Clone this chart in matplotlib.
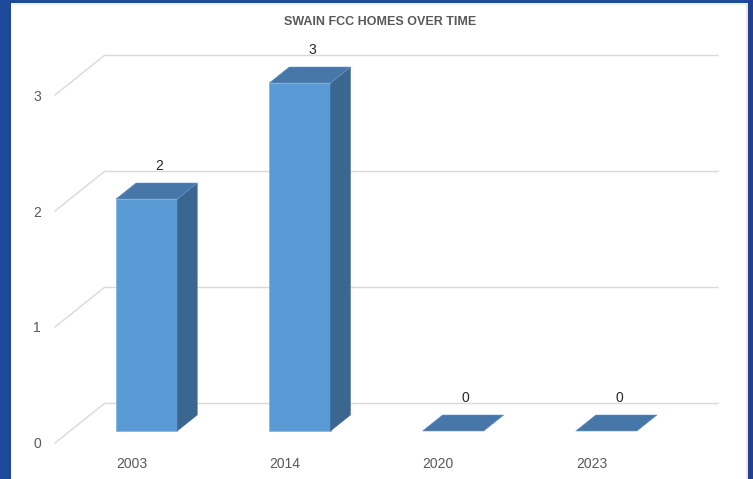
import matplotlib
matplotlib.use("Agg")
import matplotlib.pyplot as plt
from matplotlib.patches import Polygon, Rectangle

# ---- data ----
categories = ["2003", "2014", "2020", "2023"]
values = [2, 3, 0, 0]
y_ticks = [0, 1, 2, 3]
title = "SWAIN FCC HOMES OVER TIME"

# ---- style ----
FRONT = "#5B9BD5"
TOP = "#4677A8"
SIDE = "#3A6690"
GRID = "#D9D9D9"
TEXT = "#595959"
BORDER = "#1F4A9A"
FONT = "Liberation Sans"

W, H = 753, 479
fig = plt.figure(figsize=(W / 100, H / 100), dpi=100)
fig.patch.set_facecolor("white")

# axes: front plane of the floor
ax = fig.add_axes([55 / W, (H - 443) / H, 613 / W, 348 / H])
ax.set_xlim(-0.5, len(categories) - 0.5)
ax.set_ylim(0, 3)
ax.patch.set_visible(False)
for s in ax.spines.values():
    s.set_visible(False)

# depth vector (data units per full depth)
DX = 50 / 153.25
DY = 40 / 116.0
BAR_W = 0.4
D0, D1 = 0.3, 0.7

# gridlines: back wall + floor diagonals
x_left, x_right = -0.5, len(categories) - 0.5
for v in y_ticks:
    ax.plot([x_left + DX, x_right + DX], [v + DY, v + DY], color=GRID, lw=1.0,
            zorder=1, clip_on=False, solid_capstyle="butt")
    ax.plot([x_left, x_left + DX], [v, v + DY], color=GRID, lw=1.0,
            zorder=1, clip_on=False)

# bars
for i, v in enumerate(values):
    xl = i - BAR_W / 2
    xr = i + BAR_W / 2
    if v > 0:
        ax.add_patch(Rectangle((xl + DX * D0, DY * D0), BAR_W, v, facecolor=FRONT,
                               edgecolor="#7FB0E0", lw=0.5, zorder=3, clip_on=False))
        side = [(xr + DX * D0, DY * D0), (xr + DX * D1, DY * D1),
                (xr + DX * D1, v + DY * D1), (xr + DX * D0, v + DY * D0)]
        ax.add_patch(Polygon(side, closed=True, facecolor=SIDE, edgecolor=SIDE,
                             lw=0.3, zorder=3, clip_on=False))
    top = [(xl + DX * D0, v + DY * D0), (xr + DX * D0, v + DY * D0),
           (xr + DX * D1, v + DY * D1), (xl + DX * D1, v + DY * D1)]
    ax.add_patch(Polygon(top, closed=True, facecolor=TOP, edgecolor="#6A98C8",
                         lw=0.4, zorder=4, clip_on=False))
    ax.annotate(str(v), xy=(i + DX * 0.55, v + DY * D1), xytext=(0, 12),
                textcoords="offset points", ha="center", va="center",
                fontsize=10, color="#262626", family=FONT, zorder=5,
                annotation_clip=False)

# ticks
ax.set_xticks(range(len(categories)))
ax.set_xticklabels(categories)
ax.set_yticks(y_ticks)
ax.set_yticklabels([str(t) for t in y_ticks])
ax.tick_params(axis="both", length=0, labelsize=10, labelcolor=TEXT)
ax.tick_params(axis="x", pad=10)
ax.tick_params(axis="y", pad=10)
for lab in ax.get_xticklabels() + ax.get_yticklabels():
    lab.set_family(FONT)

# title
fig.text(380 / W, 1 - 22 / H, title, ha="center", va="center", fontsize=9,
         fontweight="bold", color=TEXT, family=FONT)

# frame border
fig.patches.append(Rectangle((0, 0), 11 / W, 1, transform=fig.transFigure,
                             facecolor=BORDER, edgecolor="none", zorder=10))
fig.patches.append(Rectangle((0, 1 - 3 / H), 1, 3 / H, transform=fig.transFigure,
                             facecolor=BORDER, edgecolor="none", zorder=10))
fig.patches.append(Rectangle((748 / W, 0), 5 / W, 1, transform=fig.transFigure,
                             facecolor="#253F8F", edgecolor="none", zorder=10))
fig.patches.append(Rectangle((746 / W, 0), 2 / W, 1 - 3 / H, transform=fig.transFigure,
                             facecolor="#E6E6E6", edgecolor="none", zorder=10))
fig.patches.append(Rectangle((11 / W, 1 - 5 / H), 735 / W, 2 / H, transform=fig.transFigure,
                             facecolor="#EEEEEE", edgecolor="none", zorder=10))

fig.savefig("out.png", dpi=100)
